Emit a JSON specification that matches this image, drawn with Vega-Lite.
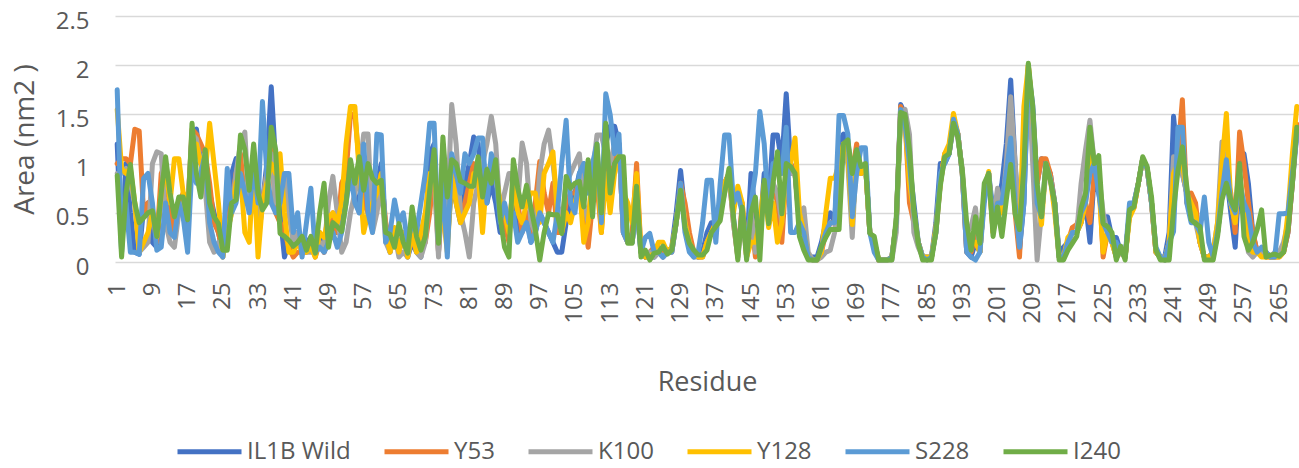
{
"$schema": "https://vega.github.io/schema/vega-lite/v6.json",
"width": 1184, "height": 246,
"autosize": "none",
"padding": {"left": 115, "top": 16, "right": 0, "bottom": 206},
"background": "white",
"data": {"values": [
{"r":1,"IL1B Wild":1.2,"Y53":1.0,"K100":0.9,"Y128":1.55,"S228":1.75,"I240":0.88},
{"r":2,"IL1B Wild":0.1,"Y53":1.05,"K100":0.9,"Y128":0.95,"S228":0.3,"I240":0.05},
{"r":3,"IL1B Wild":1.0,"Y53":1.05,"K100":0.95,"Y128":0.9,"S228":0.6,"I240":0.7},
{"r":4,"IL1B Wild":0.5,"Y53":1.0,"K100":0.8,"Y128":0.95,"S228":0.1,"I240":0.99},
{"r":5,"IL1B Wild":0.1,"Y53":1.35,"K100":0.6,"Y128":0.6,"S228":0.1,"I240":0.6},
{"r":6,"IL1B Wild":0.08,"Y53":1.33,"K100":0.1,"Y128":0.1,"S228":0.08,"I240":0.4},
{"r":7,"IL1B Wild":0.55,"Y53":0.5,"K100":0.15,"Y128":0.2,"S228":0.85,"I240":0.45},
{"r":8,"IL1B Wild":0.6,"Y53":0.6,"K100":0.2,"Y128":0.3,"S228":0.9,"I240":0.5},
{"r":9,"IL1B Wild":0.2,"Y53":0.5,"K100":1.0,"Y128":0.5,"S228":0.6,"I240":0.52},
{"r":10,"IL1B Wild":0.15,"Y53":0.2,"K100":1.12,"Y128":0.25,"S228":0.12,"I240":0.26},
{"r":11,"IL1B Wild":0.7,"Y53":0.9,"K100":1.1,"Y128":0.7,"S228":0.15,"I240":0.7},
{"r":12,"IL1B Wild":0.6,"Y53":1.0,"K100":0.4,"Y128":1.0,"S228":0.6,"I240":1.07},
{"r":13,"IL1B Wild":0.4,"Y53":0.5,"K100":0.2,"Y128":0.6,"S228":0.3,"I240":0.7},
{"r":14,"IL1B Wild":0.3,"Y53":0.3,"K100":0.15,"Y128":1.05,"S228":0.25,"I240":0.46},
{"r":15,"IL1B Wild":0.6,"Y53":0.6,"K100":0.5,"Y128":1.05,"S228":0.6,"I240":0.66},
{"r":16,"IL1B Wild":0.5,"Y53":0.7,"K100":0.6,"Y128":0.7,"S228":0.45,"I240":0.66},
{"r":17,"IL1B Wild":0.4,"Y53":0.5,"K100":0.55,"Y128":0.5,"S228":0.1,"I240":0.43},
{"r":18,"IL1B Wild":1.3,"Y53":1.35,"K100":1.3,"Y128":1.2,"S228":1.0,"I240":1.41},
{"r":19,"IL1B Wild":1.35,"Y53":1.3,"K100":1.25,"Y128":1.2,"S228":0.8,"I240":0.9},
{"r":20,"IL1B Wild":1.0,"Y53":1.2,"K100":1.0,"Y128":1.0,"S228":0.9,"I240":0.66},
{"r":21,"IL1B Wild":0.9,"Y53":1.1,"K100":0.75,"Y128":0.9,"S228":1.1,"I240":1.14},
{"r":22,"IL1B Wild":0.7,"Y53":0.8,"K100":0.2,"Y128":1.41,"S228":0.4,"I240":0.6},
{"r":23,"IL1B Wild":0.5,"Y53":0.4,"K100":0.1,"Y128":1.0,"S228":0.2,"I240":0.46},
{"r":24,"IL1B Wild":0.3,"Y53":0.3,"K100":0.2,"Y128":0.6,"S228":0.1,"I240":0.39},
{"r":25,"IL1B Wild":0.1,"Y53":0.1,"K100":0.05,"Y128":0.05,"S228":0.05,"I240":0.12},
{"r":26,"IL1B Wild":0.5,"Y53":0.4,"K100":0.3,"Y128":0.3,"S228":0.95,"I240":0.12},
{"r":27,"IL1B Wild":0.9,"Y53":0.6,"K100":0.5,"Y128":0.5,"S228":0.5,"I240":0.6},
{"r":28,"IL1B Wild":1.05,"Y53":0.9,"K100":0.9,"Y128":0.8,"S228":0.6,"I240":0.63},
{"r":29,"IL1B Wild":1.0,"Y53":1.1,"K100":1.2,"Y128":0.9,"S228":0.9,"I240":1.29},
{"r":30,"IL1B Wild":0.6,"Y53":0.6,"K100":1.32,"Y128":0.3,"S228":0.7,"I240":1.14},
{"r":31,"IL1B Wild":0.8,"Y53":0.7,"K100":0.5,"Y128":0.2,"S228":0.5,"I240":0.73},
{"r":32,"IL1B Wild":1.0,"Y53":1.1,"K100":1.1,"Y128":1.0,"S228":1.0,"I240":1.2},
{"r":33,"IL1B Wild":0.2,"Y53":0.4,"K100":0.3,"Y128":0.05,"S228":0.6,"I240":0.7},
{"r":34,"IL1B Wild":0.6,"Y53":0.6,"K100":0.6,"Y128":0.6,"S228":1.63,"I240":0.53},
{"r":35,"IL1B Wild":1.0,"Y53":0.9,"K100":0.9,"Y128":0.8,"S228":0.9,"I240":0.6},
{"r":36,"IL1B Wild":1.78,"Y53":1.2,"K100":1.1,"Y128":1.0,"S228":0.6,"I240":1.37},
{"r":37,"IL1B Wild":1.0,"Y53":0.5,"K100":0.6,"Y128":0.9,"S228":0.5,"I240":1.14},
{"r":38,"IL1B Wild":0.5,"Y53":0.4,"K100":0.9,"Y128":1.1,"S228":0.6,"I240":0.29},
{"r":39,"IL1B Wild":0.05,"Y53":0.3,"K100":0.9,"Y128":0.5,"S228":0.9,"I240":0.26},
{"r":40,"IL1B Wild":0.2,"Y53":0.15,"K100":0.5,"Y128":0.1,"S228":0.9,"I240":0.22},
{"r":41,"IL1B Wild":0.1,"Y53":0.05,"K100":0.2,"Y128":0.1,"S228":0.3,"I240":0.16},
{"r":42,"IL1B Wild":0.3,"Y53":0.1,"K100":0.3,"Y128":0.2,"S228":0.5,"I240":0.2},
{"r":43,"IL1B Wild":0.15,"Y53":0.1,"K100":0.15,"Y128":0.1,"S228":0.05,"I240":0.26},
{"r":44,"IL1B Wild":0.2,"Y53":0.1,"K100":0.1,"Y128":0.1,"S228":0.4,"I240":0.12},
{"r":45,"IL1B Wild":0.25,"Y53":0.2,"K100":0.1,"Y128":0.15,"S228":0.75,"I240":0.26},
{"r":46,"IL1B Wild":0.1,"Y53":0.05,"K100":0.1,"Y128":0.05,"S228":0.1,"I240":0.09},
{"r":47,"IL1B Wild":0.3,"Y53":0.2,"K100":0.2,"Y128":0.3,"S228":0.15,"I240":0.5},
{"r":48,"IL1B Wild":0.1,"Y53":0.1,"K100":0.15,"Y128":0.25,"S228":0.1,"I240":0.8},
{"r":49,"IL1B Wild":0.2,"Y53":0.3,"K100":0.6,"Y128":0.45,"S228":0.2,"I240":0.15},
{"r":50,"IL1B Wild":0.4,"Y53":0.5,"K100":0.87,"Y128":0.5,"S228":0.3,"I240":0.4},
{"r":51,"IL1B Wild":0.3,"Y53":0.3,"K100":0.5,"Y128":0.4,"S228":0.15,"I240":0.36},
{"r":52,"IL1B Wild":0.5,"Y53":0.8,"K100":0.1,"Y128":0.6,"S228":0.3,"I240":0.31},
{"r":53,"IL1B Wild":0.8,"Y53":0.9,"K100":0.2,"Y128":1.2,"S228":0.6,"I240":0.6},
{"r":54,"IL1B Wild":0.9,"Y53":1.5,"K100":0.5,"Y128":1.58,"S228":0.9,"I240":1.04},
{"r":55,"IL1B Wild":0.7,"Y53":1.5,"K100":0.7,"Y128":1.58,"S228":0.6,"I240":0.8},
{"r":56,"IL1B Wild":0.5,"Y53":1.0,"K100":0.9,"Y128":0.9,"S228":0.5,"I240":1.07},
{"r":57,"IL1B Wild":0.9,"Y53":0.6,"K100":1.3,"Y128":0.3,"S228":1.2,"I240":0.73},
{"r":58,"IL1B Wild":0.5,"Y53":0.5,"K100":1.3,"Y128":0.5,"S228":0.5,"I240":1.0},
{"r":59,"IL1B Wild":0.4,"Y53":0.4,"K100":0.3,"Y128":0.6,"S228":0.3,"I240":0.85},
{"r":60,"IL1B Wild":0.8,"Y53":0.7,"K100":0.5,"Y128":0.7,"S228":1.3,"I240":0.8},
{"r":61,"IL1B Wild":1.0,"Y53":0.9,"K100":0.8,"Y128":0.9,"S228":1.29,"I240":0.83},
{"r":62,"IL1B Wild":0.3,"Y53":0.4,"K100":0.2,"Y128":0.3,"S228":0.2,"I240":0.3},
{"r":63,"IL1B Wild":0.1,"Y53":0.2,"K100":0.1,"Y128":0.1,"S228":0.3,"I240":0.28},
{"r":64,"IL1B Wild":0.3,"Y53":0.3,"K100":0.3,"Y128":0.35,"S228":0.63,"I240":0.15},
{"r":65,"IL1B Wild":0.1,"Y53":0.1,"K100":0.05,"Y128":0.1,"S228":0.4,"I240":0.39},
{"r":66,"IL1B Wild":0.3,"Y53":0.3,"K100":0.1,"Y128":0.3,"S228":0.5,"I240":0.2},
{"r":67,"IL1B Wild":0.05,"Y53":0.1,"K100":0.05,"Y128":0.05,"S228":0.2,"I240":0.09},
{"r":68,"IL1B Wild":0.2,"Y53":0.2,"K100":0.3,"Y128":0.3,"S228":0.4,"I240":0.56},
{"r":69,"IL1B Wild":0.1,"Y53":0.2,"K100":0.1,"Y128":0.1,"S228":0.3,"I240":0.26},
{"r":70,"IL1B Wild":0.05,"Y53":0.3,"K100":0.05,"Y128":0.3,"S228":0.6,"I240":0.12},
{"r":71,"IL1B Wild":0.3,"Y53":0.2,"K100":0.2,"Y128":0.5,"S228":0.9,"I240":0.26},
{"r":72,"IL1B Wild":1.1,"Y53":0.5,"K100":0.8,"Y128":0.9,"S228":1.41,"I240":0.73},
{"r":73,"IL1B Wild":1.2,"Y53":0.9,"K100":0.9,"Y128":0.9,"S228":1.41,"I240":1.14},
{"r":74,"IL1B Wild":0.1,"Y53":0.1,"K100":0.05,"Y128":0.4,"S228":0.2,"I240":0.19},
{"r":75,"IL1B Wild":0.9,"Y53":0.7,"K100":1.2,"Y128":0.5,"S228":0.8,"I240":1.27},
{"r":76,"IL1B Wild":0.2,"Y53":0.3,"K100":0.5,"Y128":0.1,"S228":0.05,"I240":0.66},
{"r":77,"IL1B Wild":0.8,"Y53":0.9,"K100":1.6,"Y128":0.9,"S228":1.1,"I240":1.04},
{"r":78,"IL1B Wild":0.6,"Y53":0.8,"K100":1.2,"Y128":0.6,"S228":0.9,"I240":1.0},
{"r":79,"IL1B Wild":0.4,"Y53":0.5,"K100":0.5,"Y128":0.4,"S228":0.7,"I240":0.82},
{"r":80,"IL1B Wild":0.8,"Y53":0.6,"K100":0.3,"Y128":0.5,"S228":1.1,"I240":0.8},
{"r":81,"IL1B Wild":1.0,"Y53":0.8,"K100":0.05,"Y128":0.6,"S228":1.0,"I240":0.77},
{"r":82,"IL1B Wild":1.27,"Y53":1.0,"K100":0.6,"Y128":0.9,"S228":1.1,"I240":0.77},
{"r":83,"IL1B Wild":1.2,"Y53":0.9,"K100":0.8,"Y128":0.9,"S228":1.26,"I240":1.07},
{"r":84,"IL1B Wild":0.7,"Y53":0.5,"K100":1.0,"Y128":0.3,"S228":1.26,"I240":0.66},
{"r":85,"IL1B Wild":0.6,"Y53":0.8,"K100":1.2,"Y128":0.9,"S228":0.6,"I240":0.94},
{"r":86,"IL1B Wild":0.8,"Y53":1.0,"K100":1.48,"Y128":1.0,"S228":1.1,"I240":0.8},
{"r":87,"IL1B Wild":0.6,"Y53":0.9,"K100":1.2,"Y128":0.9,"S228":0.9,"I240":1.04},
{"r":88,"IL1B Wild":0.3,"Y53":0.5,"K100":0.5,"Y128":0.6,"S228":0.4,"I240":0.46},
{"r":89,"IL1B Wild":0.5,"Y53":0.4,"K100":0.7,"Y128":0.5,"S228":0.6,"I240":0.15},
{"r":90,"IL1B Wild":0.3,"Y53":0.2,"K100":0.9,"Y128":0.3,"S228":0.4,"I240":0.05},
{"r":91,"IL1B Wild":0.6,"Y53":0.9,"K100":0.9,"Y128":0.8,"S228":0.5,"I240":1.04},
{"r":92,"IL1B Wild":0.3,"Y53":0.6,"K100":0.6,"Y128":0.5,"S228":0.2,"I240":0.75},
{"r":93,"IL1B Wild":0.4,"Y53":0.3,"K100":1.21,"Y128":0.4,"S228":0.3,"I240":0.56},
{"r":94,"IL1B Wild":0.5,"Y53":0.5,"K100":1.0,"Y128":0.6,"S228":0.4,"I240":0.78},
{"r":95,"IL1B Wild":0.2,"Y53":0.3,"K100":0.4,"Y128":0.7,"S228":0.2,"I240":0.55},
{"r":96,"IL1B Wild":0.3,"Y53":0.6,"K100":0.3,"Y128":0.7,"S228":0.3,"I240":0.33},
{"r":97,"IL1B Wild":0.5,"Y53":1.02,"K100":0.9,"Y128":0.4,"S228":0.5,"I240":0.02},
{"r":98,"IL1B Wild":0.4,"Y53":0.7,"K100":1.2,"Y128":0.9,"S228":0.4,"I240":0.3},
{"r":99,"IL1B Wild":0.3,"Y53":0.5,"K100":1.34,"Y128":1.0,"S228":0.3,"I240":0.49},
{"r":100,"IL1B Wild":0.2,"Y53":0.8,"K100":1.0,"Y128":1.12,"S228":0.2,"I240":0.48},
{"r":101,"IL1B Wild":0.1,"Y53":0.3,"K100":0.6,"Y128":0.5,"S228":0.5,"I240":0.48},
{"r":102,"IL1B Wild":0.1,"Y53":0.3,"K100":0.4,"Y128":0.3,"S228":1.0,"I240":0.29},
{"r":103,"IL1B Wild":0.4,"Y53":0.6,"K100":0.8,"Y128":0.5,"S228":1.44,"I240":0.87},
{"r":104,"IL1B Wild":0.6,"Y53":0.7,"K100":0.9,"Y128":0.4,"S228":0.6,"I240":0.75},
{"r":105,"IL1B Wild":0.7,"Y53":0.7,"K100":1.0,"Y128":0.6,"S228":0.5,"I240":0.8},
{"r":106,"IL1B Wild":0.9,"Y53":0.8,"K100":1.1,"Y128":0.8,"S228":0.9,"I240":0.82},
{"r":107,"IL1B Wild":1.0,"Y53":0.5,"K100":0.6,"Y128":0.2,"S228":1.0,"I240":0.56},
{"r":108,"IL1B Wild":0.8,"Y53":0.15,"K100":0.4,"Y128":0.4,"S228":0.7,"I240":1.04},
{"r":109,"IL1B Wild":1.0,"Y53":0.6,"K100":0.9,"Y128":0.9,"S228":1.0,"I240":0.46},
{"r":110,"IL1B Wild":1.1,"Y53":0.8,"K100":1.29,"Y128":1.0,"S228":1.2,"I240":1.2},
{"r":111,"IL1B Wild":0.5,"Y53":0.3,"K100":1.29,"Y128":0.3,"S228":0.4,"I240":0.5},
{"r":112,"IL1B Wild":1.2,"Y53":1.0,"K100":1.1,"Y128":0.9,"S228":1.71,"I240":1.41},
{"r":113,"IL1B Wild":1.38,"Y53":0.8,"K100":1.0,"Y128":0.5,"S228":1.5,"I240":0.7},
{"r":114,"IL1B Wild":1.38,"Y53":1.1,"K100":1.2,"Y128":0.9,"S228":1.1,"I240":1.0},
{"r":115,"IL1B Wild":1.2,"Y53":1.2,"K100":1.2,"Y128":1.1,"S228":1.3,"I240":1.07},
{"r":116,"IL1B Wild":0.3,"Y53":0.3,"K100":0.3,"Y128":0.7,"S228":0.3,"I240":1.07},
{"r":117,"IL1B Wild":0.2,"Y53":0.2,"K100":0.2,"Y128":0.6,"S228":0.2,"I240":0.19},
{"r":118,"IL1B Wild":0.2,"Y53":0.3,"K100":0.2,"Y128":0.4,"S228":0.2,"I240":0.19},
{"r":119,"IL1B Wild":0.6,"Y53":1.0,"K100":0.6,"Y128":0.9,"S228":0.6,"I240":0.77},
{"r":120,"IL1B Wild":0.1,"Y53":0.1,"K100":0.1,"Y128":0.1,"S228":0.1,"I240":0.05},
{"r":121,"IL1B Wild":0.05,"Y53":0.05,"K100":0.05,"Y128":0.05,"S228":0.25,"I240":0.12},
{"r":122,"IL1B Wild":0.1,"Y53":0.1,"K100":0.1,"Y128":0.05,"S228":0.29,"I240":0.02},
{"r":123,"IL1B Wild":0.05,"Y53":0.15,"K100":0.05,"Y128":0.1,"S228":0.1,"I240":0.09},
{"r":124,"IL1B Wild":0.1,"Y53":0.15,"K100":0.1,"Y128":0.2,"S228":0.1,"I240":0.1},
{"r":125,"IL1B Wild":0.05,"Y53":0.1,"K100":0.05,"Y128":0.2,"S228":0.05,"I240":0.16},
{"r":126,"IL1B Wild":0.1,"Y53":0.1,"K100":0.1,"Y128":0.1,"S228":0.1,"I240":0.08},
{"r":127,"IL1B Wild":0.15,"Y53":0.1,"K100":0.1,"Y128":0.15,"S228":0.1,"I240":0.12},
{"r":128,"IL1B Wild":0.5,"Y53":0.4,"K100":0.4,"Y128":0.4,"S228":0.4,"I240":0.4},
{"r":129,"IL1B Wild":0.93,"Y53":0.8,"K100":0.75,"Y128":0.75,"S228":0.8,"I240":0.73},
{"r":130,"IL1B Wild":0.5,"Y53":0.6,"K100":0.4,"Y128":0.4,"S228":0.3,"I240":0.35},
{"r":131,"IL1B Wild":0.2,"Y53":0.3,"K100":0.2,"Y128":0.2,"S228":0.1,"I240":0.19},
{"r":132,"IL1B Wild":0.1,"Y53":0.1,"K100":0.05,"Y128":0.1,"S228":0.05,"I240":0.12},
{"r":133,"IL1B Wild":0.05,"Y53":0.05,"K100":0.05,"Y128":0.05,"S228":0.1,"I240":0.07},
{"r":134,"IL1B Wild":0.1,"Y53":0.05,"K100":0.05,"Y128":0.05,"S228":0.4,"I240":0.07},
{"r":135,"IL1B Wild":0.3,"Y53":0.2,"K100":0.2,"Y128":0.2,"S228":0.83,"I240":0.12},
{"r":136,"IL1B Wild":0.4,"Y53":0.3,"K100":0.3,"Y128":0.3,"S228":0.83,"I240":0.3},
{"r":137,"IL1B Wild":0.4,"Y53":0.4,"K100":0.35,"Y128":0.4,"S228":0.2,"I240":0.36},
{"r":138,"IL1B Wild":0.6,"Y53":0.6,"K100":0.5,"Y128":0.6,"S228":0.8,"I240":0.42},
{"r":139,"IL1B Wild":0.8,"Y53":0.8,"K100":0.7,"Y128":0.8,"S228":1.29,"I240":0.7},
{"r":140,"IL1B Wild":0.9,"Y53":0.9,"K100":0.9,"Y128":0.9,"S228":1.29,"I240":0.95},
{"r":141,"IL1B Wild":0.45,"Y53":0.4,"K100":0.4,"Y128":0.5,"S228":0.6,"I240":0.46},
{"r":142,"IL1B Wild":0.1,"Y53":0.05,"K100":0.05,"Y128":0.77,"S228":0.7,"I240":0.02},
{"r":143,"IL1B Wild":0.5,"Y53":0.6,"K100":0.5,"Y128":0.6,"S228":0.5,"I240":0.56},
{"r":144,"IL1B Wild":0.1,"Y53":0.05,"K100":0.05,"Y128":0.05,"S228":0.1,"I240":0.02},
{"r":145,"IL1B Wild":0.9,"Y53":0.5,"K100":0.5,"Y128":0.2,"S228":0.6,"I240":0.5},
{"r":146,"IL1B Wild":0.5,"Y53":0.05,"K100":0.1,"Y128":0.2,"S228":0.9,"I240":0.66},
{"r":147,"IL1B Wild":0.3,"Y53":0.3,"K100":0.3,"Y128":0.4,"S228":1.53,"I240":0.02},
{"r":148,"IL1B Wild":0.9,"Y53":0.7,"K100":0.7,"Y128":0.8,"S228":1.2,"I240":0.83},
{"r":149,"IL1B Wild":0.6,"Y53":0.5,"K100":0.5,"Y128":0.35,"S228":0.5,"I240":0.39},
{"r":150,"IL1B Wild":1.29,"Y53":0.8,"K100":0.8,"Y128":0.6,"S228":1.0,"I240":0.8},
{"r":151,"IL1B Wild":1.29,"Y53":0.6,"K100":0.7,"Y128":0.2,"S228":1.0,"I240":1.12},
{"r":152,"IL1B Wild":1.0,"Y53":0.2,"K100":0.4,"Y128":0.4,"S228":0.9,"I240":0.49},
{"r":153,"IL1B Wild":1.71,"Y53":0.9,"K100":0.9,"Y128":0.9,"S228":1.37,"I240":1.0},
{"r":154,"IL1B Wild":1.0,"Y53":1.0,"K100":0.9,"Y128":1.0,"S228":0.3,"I240":0.97},
{"r":155,"IL1B Wild":0.9,"Y53":0.9,"K100":0.9,"Y128":1.26,"S228":0.3,"I240":0.9},
{"r":156,"IL1B Wild":0.4,"Y53":0.4,"K100":0.5,"Y128":0.5,"S228":0.4,"I240":0.26},
{"r":157,"IL1B Wild":0.3,"Y53":0.3,"K100":0.55,"Y128":0.3,"S228":0.3,"I240":0.12},
{"r":158,"IL1B Wild":0.05,"Y53":0.05,"K100":0.1,"Y128":0.05,"S228":0.05,"I240":0.02},
{"r":159,"IL1B Wild":0.05,"Y53":0.02,"K100":0.02,"Y128":0.02,"S228":0.02,"I240":0.02},
{"r":160,"IL1B Wild":0.05,"Y53":0.02,"K100":0.02,"Y128":0.02,"S228":0.02,"I240":0.02},
{"r":161,"IL1B Wild":0.2,"Y53":0.1,"K100":0.05,"Y128":0.1,"S228":0.15,"I240":0.16},
{"r":162,"IL1B Wild":0.4,"Y53":0.3,"K100":0.1,"Y128":0.5,"S228":0.3,"I240":0.25},
{"r":163,"IL1B Wild":0.5,"Y53":0.4,"K100":0.12,"Y128":0.85,"S228":0.4,"I240":0.33},
{"r":164,"IL1B Wild":0.4,"Y53":0.4,"K100":0.3,"Y128":0.85,"S228":0.4,"I240":0.33},
{"r":165,"IL1B Wild":1.2,"Y53":0.9,"K100":0.9,"Y128":1.0,"S228":1.49,"I240":0.33},
{"r":166,"IL1B Wild":1.3,"Y53":1.2,"K100":1.1,"Y128":1.2,"S228":1.49,"I240":1.2},
{"r":167,"IL1B Wild":1.1,"Y53":1.2,"K100":1.0,"Y128":1.1,"S228":1.3,"I240":1.24},
{"r":168,"IL1B Wild":0.4,"Y53":0.9,"K100":0.25,"Y128":0.38,"S228":0.46,"I240":0.9},
{"r":169,"IL1B Wild":1.1,"Y53":1.2,"K100":1.1,"Y128":1.1,"S228":0.9,"I240":1.14},
{"r":170,"IL1B Wild":0.9,"Y53":0.9,"K100":0.9,"Y128":0.9,"S228":1.16,"I240":0.97},
{"r":171,"IL1B Wild":1.0,"Y53":1.0,"K100":1.0,"Y128":1.0,"S228":1.16,"I240":1.0},
{"r":172,"IL1B Wild":0.3,"Y53":0.3,"K100":0.3,"Y128":0.3,"S228":0.3,"I240":0.29},
{"r":173,"IL1B Wild":0.2,"Y53":0.2,"K100":0.2,"Y128":0.2,"S228":0.1,"I240":0.26},
{"r":174,"IL1B Wild":0.02,"Y53":0.02,"K100":0.02,"Y128":0.02,"S228":0.02,"I240":0.02},
{"r":175,"IL1B Wild":0.02,"Y53":0.02,"K100":0.02,"Y128":0.02,"S228":0.02,"I240":0.02},
{"r":176,"IL1B Wild":0.02,"Y53":0.02,"K100":0.02,"Y128":0.02,"S228":0.02,"I240":0.02},
{"r":177,"IL1B Wild":0.05,"Y53":0.05,"K100":0.02,"Y128":0.05,"S228":0.05,"I240":0.02},
{"r":178,"IL1B Wild":0.4,"Y53":0.4,"K100":0.3,"Y128":0.4,"S228":0.4,"I240":0.45},
{"r":179,"IL1B Wild":1.6,"Y53":1.58,"K100":1.5,"Y128":1.52,"S228":1.55,"I240":1.52},
{"r":180,"IL1B Wild":1.5,"Y53":1.45,"K100":1.55,"Y128":1.4,"S228":1.4,"I240":1.5},
{"r":181,"IL1B Wild":1.0,"Y53":0.6,"K100":1.3,"Y128":0.8,"S228":1.0,"I240":1.14},
{"r":182,"IL1B Wild":0.6,"Y53":0.4,"K100":0.3,"Y128":0.5,"S228":0.5,"I240":0.53},
{"r":183,"IL1B Wild":0.2,"Y53":0.2,"K100":0.15,"Y128":0.2,"S228":0.2,"I240":0.19},
{"r":184,"IL1B Wild":0.05,"Y53":0.05,"K100":0.05,"Y128":0.05,"S228":0.05,"I240":0.02},
{"r":185,"IL1B Wild":0.05,"Y53":0.02,"K100":0.02,"Y128":0.05,"S228":0.02,"I240":0.02},
{"r":186,"IL1B Wild":0.05,"Y53":0.05,"K100":0.05,"Y128":0.05,"S228":0.05,"I240":0.02},
{"r":187,"IL1B Wild":0.4,"Y53":0.3,"K100":0.3,"Y128":0.35,"S228":0.3,"I240":0.3},
{"r":188,"IL1B Wild":1.0,"Y53":0.8,"K100":0.8,"Y128":0.8,"S228":0.9,"I240":0.77},
{"r":189,"IL1B Wild":1.0,"Y53":1.1,"K100":1.05,"Y128":1.1,"S228":1.0,"I240":1.07},
{"r":190,"IL1B Wild":1.1,"Y53":1.1,"K100":1.1,"Y128":1.2,"S228":1.1,"I240":1.1},
{"r":191,"IL1B Wild":1.4,"Y53":1.45,"K100":1.4,"Y128":1.51,"S228":1.45,"I240":1.41},
{"r":192,"IL1B Wild":1.3,"Y53":1.3,"K100":1.25,"Y128":1.3,"S228":1.3,"I240":1.27},
{"r":193,"IL1B Wild":0.9,"Y53":0.9,"K100":0.95,"Y128":0.9,"S228":0.9,"I240":0.93},
{"r":194,"IL1B Wild":0.1,"Y53":0.1,"K100":0.3,"Y128":0.2,"S228":0.1,"I240":0.4},
{"r":195,"IL1B Wild":0.05,"Y53":0.1,"K100":0.36,"Y128":0.2,"S228":0.05,"I240":0.12},
{"r":196,"IL1B Wild":0.2,"Y53":0.3,"K100":0.55,"Y128":0.2,"S228":0.02,"I240":0.46},
{"r":197,"IL1B Wild":0.1,"Y53":0.1,"K100":0.1,"Y128":0.1,"S228":0.1,"I240":0.19},
{"r":198,"IL1B Wild":0.7,"Y53":0.7,"K100":0.7,"Y128":0.7,"S228":0.6,"I240":0.8},
{"r":199,"IL1B Wild":0.9,"Y53":0.9,"K100":0.85,"Y128":0.92,"S228":0.9,"I240":0.9},
{"r":200,"IL1B Wild":0.5,"Y53":0.3,"K100":0.4,"Y128":0.3,"S228":0.4,"I240":0.26},
{"r":201,"IL1B Wild":0.6,"Y53":0.7,"K100":0.75,"Y128":0.6,"S228":0.6,"I240":0.56},
{"r":202,"IL1B Wild":0.8,"Y53":0.5,"K100":0.5,"Y128":0.5,"S228":0.6,"I240":0.26},
{"r":203,"IL1B Wild":1.2,"Y53":0.8,"K100":1.0,"Y128":0.8,"S228":0.9,"I240":0.63},
{"r":204,"IL1B Wild":1.85,"Y53":1.2,"K100":1.68,"Y128":1.1,"S228":1.26,"I240":0.99},
{"r":205,"IL1B Wild":1.0,"Y53":0.5,"K100":1.0,"Y128":0.6,"S228":0.6,"I240":0.49},
{"r":206,"IL1B Wild":0.12,"Y53":0.05,"K100":0.5,"Y128":0.2,"S228":0.15,"I240":0.33},
{"r":207,"IL1B Wild":0.6,"Y53":1.0,"K100":0.8,"Y128":1.58,"S228":0.6,"I240":0.97},
{"r":208,"IL1B Wild":1.95,"Y53":2.0,"K100":1.95,"Y128":2.0,"S228":1.9,"I240":2.02},
{"r":209,"IL1B Wild":1.6,"Y53":1.5,"K100":1.0,"Y128":1.5,"S228":1.55,"I240":1.58},
{"r":210,"IL1B Wild":0.8,"Y53":0.8,"K100":0.02,"Y128":0.7,"S228":0.6,"I240":0.8},
{"r":211,"IL1B Wild":1.05,"Y53":1.05,"K100":0.5,"Y128":0.38,"S228":0.46,"I240":0.46},
{"r":212,"IL1B Wild":1.0,"Y53":1.05,"K100":0.9,"Y128":1.0,"S228":1.0,"I240":1.0},
{"r":213,"IL1B Wild":0.9,"Y53":0.9,"K100":0.85,"Y128":0.85,"S228":0.85,"I240":0.83},
{"r":214,"IL1B Wild":0.6,"Y53":0.6,"K100":0.6,"Y128":0.5,"S228":0.6,"I240":0.6},
{"r":215,"IL1B Wild":0.1,"Y53":0.05,"K100":0.05,"Y128":0.05,"S228":0.05,"I240":0.02},
{"r":216,"IL1B Wild":0.15,"Y53":0.05,"K100":0.05,"Y128":0.05,"S228":0.05,"I240":0.02},
{"r":217,"IL1B Wild":0.2,"Y53":0.2,"K100":0.2,"Y128":0.25,"S228":0.2,"I240":0.12},
{"r":218,"IL1B Wild":0.3,"Y53":0.35,"K100":0.3,"Y128":0.3,"S228":0.3,"I240":0.19},
{"r":219,"IL1B Wild":0.3,"Y53":0.38,"K100":0.3,"Y128":0.3,"S228":0.3,"I240":0.26},
{"r":220,"IL1B Wild":0.4,"Y53":0.5,"K100":0.8,"Y128":0.4,"S228":0.5,"I240":0.55},
{"r":221,"IL1B Wild":0.6,"Y53":0.6,"K100":1.14,"Y128":0.6,"S228":0.6,"I240":0.7},
{"r":222,"IL1B Wild":0.2,"Y53":0.4,"K100":1.44,"Y128":1.1,"S228":0.9,"I240":1.37},
{"r":223,"IL1B Wild":0.9,"Y53":0.9,"K100":1.0,"Y128":1.0,"S228":1.0,"I240":1.0},
{"r":224,"IL1B Wild":0.7,"Y53":0.9,"K100":0.9,"Y128":0.8,"S228":0.7,"I240":1.08},
{"r":225,"IL1B Wild":0.46,"Y53":0.05,"K100":0.5,"Y128":0.1,"S228":0.4,"I240":0.39},
{"r":226,"IL1B Wild":0.46,"Y53":0.3,"K100":0.3,"Y128":0.3,"S228":0.3,"I240":0.36},
{"r":227,"IL1B Wild":0.25,"Y53":0.2,"K100":0.2,"Y128":0.2,"S228":0.2,"I240":0.3},
{"r":228,"IL1B Wild":0.25,"Y53":0.05,"K100":0.05,"Y128":0.05,"S228":0.2,"I240":0.02},
{"r":229,"IL1B Wild":0.1,"Y53":0.1,"K100":0.1,"Y128":0.1,"S228":0.1,"I240":0.16},
{"r":230,"IL1B Wild":0.05,"Y53":0.05,"K100":0.05,"Y128":0.05,"S228":0.05,"I240":0.02},
{"r":231,"IL1B Wild":0.5,"Y53":0.5,"K100":0.5,"Y128":0.45,"S228":0.6,"I240":0.53},
{"r":232,"IL1B Wild":0.6,"Y53":0.55,"K100":0.6,"Y128":0.55,"S228":0.6,"I240":0.56},
{"r":233,"IL1B Wild":0.8,"Y53":0.8,"K100":0.8,"Y128":0.8,"S228":0.8,"I240":0.8},
{"r":234,"IL1B Wild":1.05,"Y53":1.05,"K100":1.05,"Y128":1.05,"S228":1.05,"I240":1.07},
{"r":235,"IL1B Wild":0.95,"Y53":0.95,"K100":0.95,"Y128":0.95,"S228":0.95,"I240":0.97},
{"r":236,"IL1B Wild":0.6,"Y53":0.6,"K100":0.6,"Y128":0.6,"S228":0.6,"I240":0.66},
{"r":237,"IL1B Wild":0.1,"Y53":0.1,"K100":0.1,"Y128":0.1,"S228":0.15,"I240":0.12},
{"r":238,"IL1B Wild":0.05,"Y53":0.05,"K100":0.05,"Y128":0.05,"S228":0.05,"I240":0.02},
{"r":239,"IL1B Wild":0.05,"Y53":0.02,"K100":0.02,"Y128":0.02,"S228":0.02,"I240":0.02},
{"r":240,"IL1B Wild":0.3,"Y53":0.2,"K100":0.2,"Y128":0.2,"S228":0.2,"I240":0.02},
{"r":241,"IL1B Wild":1.48,"Y53":0.8,"K100":1.07,"Y128":0.9,"S228":0.31,"I240":0.53},
{"r":242,"IL1B Wild":1.0,"Y53":1.1,"K100":1.0,"Y128":1.0,"S228":1.37,"I240":0.93},
{"r":243,"IL1B Wild":0.9,"Y53":1.65,"K100":0.9,"Y128":1.0,"S228":1.37,"I240":1.17},
{"r":244,"IL1B Wild":0.7,"Y53":0.6,"K100":0.7,"Y128":0.7,"S228":0.6,"I240":0.77},
{"r":245,"IL1B Wild":0.5,"Y53":0.7,"K100":0.5,"Y128":0.6,"S228":0.4,"I240":0.43},
{"r":246,"IL1B Wild":0.5,"Y53":0.6,"K100":0.4,"Y128":0.5,"S228":0.4,"I240":0.39},
{"r":247,"IL1B Wild":0.2,"Y53":0.2,"K100":0.2,"Y128":0.2,"S228":0.3,"I240":0.36},
{"r":248,"IL1B Wild":0.05,"Y53":0.05,"K100":0.05,"Y128":0.05,"S228":0.66,"I240":0.02},
{"r":249,"IL1B Wild":0.05,"Y53":0.05,"K100":0.05,"Y128":0.05,"S228":0.2,"I240":0.02},
{"r":250,"IL1B Wild":0.1,"Y53":0.1,"K100":0.1,"Y128":0.1,"S228":0.05,"I240":0.02},
{"r":251,"IL1B Wild":0.3,"Y53":0.3,"K100":0.4,"Y128":0.4,"S228":0.3,"I240":0.26},
{"r":252,"IL1B Wild":0.7,"Y53":0.7,"K100":1.22,"Y128":1.0,"S228":0.7,"I240":0.63},
{"r":253,"IL1B Wild":0.9,"Y53":0.9,"K100":0.9,"Y128":1.51,"S228":1.04,"I240":0.8},
{"r":254,"IL1B Wild":0.5,"Y53":0.7,"K100":0.6,"Y128":0.6,"S228":0.6,"I240":0.63},
{"r":255,"IL1B Wild":0.15,"Y53":0.3,"K100":0.4,"Y128":0.4,"S228":0.5,"I240":0.53},
{"r":256,"IL1B Wild":0.9,"Y53":1.32,"K100":0.9,"Y128":0.9,"S228":0.8,"I240":1.0},
{"r":257,"IL1B Wild":1.1,"Y53":1.0,"K100":0.5,"Y128":0.5,"S228":0.6,"I240":0.26},
{"r":258,"IL1B Wild":0.8,"Y53":0.6,"K100":0.1,"Y128":0.2,"S228":0.5,"I240":0.12},
{"r":259,"IL1B Wild":0.3,"Y53":0.3,"K100":0.05,"Y128":0.1,"S228":0.2,"I240":0.2},
{"r":260,"IL1B Wild":0.1,"Y53":0.1,"K100":0.1,"Y128":0.1,"S228":0.1,"I240":0.33},
{"r":261,"IL1B Wild":0.1,"Y53":0.1,"K100":0.1,"Y128":0.05,"S228":0.15,"I240":0.53},
{"r":262,"IL1B Wild":0.1,"Y53":0.05,"K100":0.1,"Y128":0.05,"S228":0.1,"I240":0.05},
{"r":263,"IL1B Wild":0.05,"Y53":0.05,"K100":0.05,"Y128":0.05,"S228":0.05,"I240":0.07},
{"r":264,"IL1B Wild":0.05,"Y53":0.05,"K100":0.1,"Y128":0.05,"S228":0.05,"I240":0.08},
{"r":265,"IL1B Wild":0.1,"Y53":0.05,"K100":0.1,"Y128":0.05,"S228":0.49,"I240":0.06},
{"r":266,"IL1B Wild":0.1,"Y53":0.1,"K100":0.2,"Y128":0.1,"S228":0.49,"I240":0.1},
{"r":267,"IL1B Wild":0.3,"Y53":0.3,"K100":0.4,"Y128":0.5,"S228":0.5,"I240":0.33},
{"r":268,"IL1B Wild":0.8,"Y53":0.8,"K100":0.9,"Y128":1.1,"S228":0.9,"I240":0.8},
{"r":269,"IL1B Wild":1.3,"Y53":1.4,"K100":1.3,"Y128":1.58,"S228":1.3,"I240":1.37}
]},
"transform": [{"fold": ["IL1B Wild","Y53","K100","Y128","S228","I240"], "as": ["series","area"]}],
"mark": {"type": "line", "strokeWidth": 5, "strokeJoin": "round", "strokeCap": "round"},
"encoding": {
  "x": {"field": "r", "type": "ordinal", "sort": null,
    "scale": {"type": "point", "padding": 0.5},
    "axis": {"title": "Residue", "values": [1,9,17,25,33,41,49,57,65,73,81,89,97,105,113,121,129,137,145,153,161,169,177,185,193,201,209,217,225,233,241,249,257,265],
      "labelAngle": 270, "labelFontSize": 24, "labelColor": "#595959", "labelPadding": 20, "ticks": false, "tickSize": 0, "domain": false, "grid": false,
      "titleFontSize": 27, "titleFontWeight": "normal", "titleColor": "#595959", "titlePadding": 46}},
  "y": {"field": "area", "type": "quantitative",
    "scale": {"domain": [0, 2.5], "nice": false, "zero": true},
    "axis": {"title": "Area (nm2 )", "values": [0,0.5,1,1.5,2,2.5], "format": "~g", "labelFontSize": 24, "labelColor": "#595959", "labelPadding": 26, "labelOffset": 5,
      "ticks": false, "tickSize": 0, "domain": false, "grid": true, "gridColor": "#D9D9D9", "gridWidth": 1.5,
      "titleFontSize": 28, "titleFontWeight": "normal", "titleColor": "#595959", "titlePadding": 16}},
  "color": {"field": "series", "type": "nominal",
    "scale": {"domain": ["IL1B Wild","Y53","K100","Y128","S228","I240"], "range": ["#4472C4","#ED7D31","#A5A5A5","#FFC000","#5B9BD5","#70AD47"]},
    "legend": {"orient": "none", "legendX": 60, "legendY": 401, "direction": "horizontal", "title": null,
      "symbolType": "stroke", "symbolSize": 4096, "symbolStrokeWidth": 5, "labelFontSize": 24, "labelColor": "#595959",
      "labelOffset": 3, "columnPadding": 23, "labelLimit": 300}}
},
"config": {"view": {"stroke": null}, "font": "Open Sans"}
}
